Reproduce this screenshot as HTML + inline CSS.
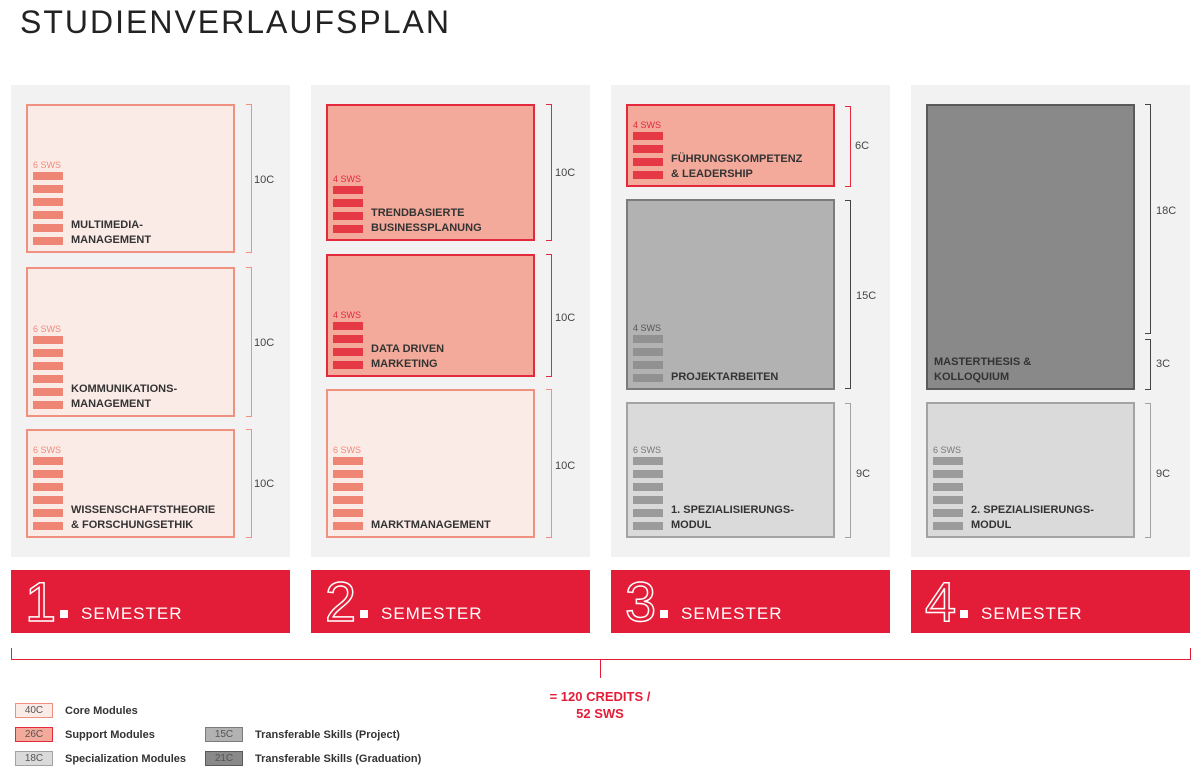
<!DOCTYPE html>
<html><head><meta charset="utf-8">
<style>
body{margin:0;width:1200px;height:774px;background:#fff;position:relative;overflow:hidden;font-family:"Liberation Sans",Arial,sans-serif}
.a{position:absolute}
.col{position:absolute;top:85px;width:279px;height:472px;background:#f2f2f2}
.box{position:absolute;box-sizing:border-box;border:2px solid}
.core{background:#fbebe7;border-color:#f0917f}
.sup{background:#f3aa9b;border-color:#e3293b}
.spec{background:#dadada;border-color:#a3a3a3}
.proj{background:#b2b2b2;border-color:#7b7b7b}
.grad{background:#898989;border-color:#5a5a5a}
.sw{position:absolute;left:5px;bottom:6px;width:32px}
.sw span{display:block;font-size:9px;line-height:10px;margin-bottom:1px}
.sw i{display:block;width:30px;height:8px;margin-top:5px}
.sw span+i{margin-top:2px}
.core .sw span{color:#ef8a79}.core .sw i{background:#ef8575}
.sup .sw span{color:#e3293b}.sup .sw i{background:#e63946}
.spec .sw span{color:#777}.spec .sw i{background:#9b9b9b}
.proj .sw span{color:#555}.proj .sw i{background:#919191}
.lb{position:absolute;left:43px;bottom:3px;font-size:11px;font-weight:bold;line-height:15px;color:#333}
.br{position:absolute;width:5px;border:1.5px solid;border-left:none}
.bt{position:absolute;font-size:11px;color:#444}
.sem{position:absolute;top:570px;width:279px;height:63px;background:#e31d37;color:#fff}
.sem .n{position:absolute;left:14px;top:4px;font-size:56px;line-height:56px;font-weight:100;color:transparent;-webkit-text-stroke:1.5px #fff}
.sem .d{position:absolute;left:49px;top:40px;width:8px;height:8px;background:#fff}
.sem .t{position:absolute;left:70px;top:34px;font-size:17px;letter-spacing:1px}
.lg{position:absolute;width:38px;height:15px;box-sizing:border-box;border:1px solid;font-size:10px;text-align:center;line-height:13px;color:#555}
.lt{position:absolute;font-size:11px;font-weight:bold;color:#333}
</style></head><body>
<div class="a" style="left:20px;top:4px;font-size:32px;letter-spacing:2px;color:#222;font-weight:normal">STUDIENVERLAUFSPLAN</div>

<div class="col" style="left:11px"></div>
<div class="col" style="left:311px"></div>
<div class="col" style="left:611px"></div>
<div class="col" style="left:911px"></div>

<!-- col1 -->
<div class="box core" style="left:26px;top:104px;width:209px;height:149px"><div class="sw"><span>6 SWS</span><i></i><i></i><i></i><i></i><i></i><i></i></div><div class="lb">MULTIMEDIA-<br>MANAGEMENT</div></div>
<div class="br" style="left:246px;top:104px;height:147px;border-color:#f0917f"></div><div class="bt" style="left:254px;top:174px">10C</div>
<div class="box core" style="left:26px;top:267px;width:209px;height:150px"><div class="sw"><span>6 SWS</span><i></i><i></i><i></i><i></i><i></i><i></i></div><div class="lb">KOMMUNIKATIONS-<br>MANAGEMENT</div></div>
<div class="br" style="left:246px;top:267px;height:148px;border-color:#f0917f"></div><div class="bt" style="left:254px;top:337px">10C</div>
<div class="box core" style="left:26px;top:429px;width:209px;height:109px"><div class="sw"><span>6 SWS</span><i></i><i></i><i></i><i></i><i></i><i></i></div><div class="lb">WISSENSCHAFTSTHEORIE<br>&amp; FORSCHUNGSETHIK</div></div>
<div class="br" style="left:246px;top:429px;height:107px;border-color:#f0917f"></div><div class="bt" style="left:254px;top:478px">10C</div>

<!-- col2 -->
<div class="box sup" style="left:326px;top:104px;width:209px;height:137px"><div class="sw"><span>4 SWS</span><i></i><i></i><i></i><i></i></div><div class="lb">TRENDBASIERTE<br>BUSINESSPLANUNG</div></div>
<div class="br" style="left:546px;top:104px;height:135px;border-color:#e3293b"></div><div class="bt" style="left:555px;top:167px">10C</div>
<div class="box sup" style="left:326px;top:254px;width:209px;height:123px"><div class="sw"><span>4 SWS</span><i></i><i></i><i></i><i></i></div><div class="lb">DATA DRIVEN<br>MARKETING</div></div>
<div class="br" style="left:546px;top:254px;height:121px;border-color:#e3293b"></div><div class="bt" style="left:555px;top:312px">10C</div>
<div class="box core" style="left:326px;top:389px;width:209px;height:149px"><div class="sw"><span>6 SWS</span><i></i><i></i><i></i><i></i><i></i><i></i></div><div class="lb">MARKTMANAGEMENT</div></div>
<div class="br" style="left:546px;top:389px;height:147px;border-color:#f0917f"></div><div class="bt" style="left:555px;top:460px">10C</div>

<!-- col3 -->
<div class="box sup" style="left:626px;top:104px;width:209px;height:83px"><div class="sw"><span>4 SWS</span><i></i><i></i><i></i><i></i></div><div class="lb">FÜHRUNGSKOMPETENZ<br>&amp; LEADERSHIP</div></div>
<div class="br" style="left:845px;top:106px;height:79px;border-color:#e3293b"></div><div class="bt" style="left:855px;top:140px">6C</div>
<div class="box proj" style="left:626px;top:199px;width:209px;height:191px"><div class="sw"><span>4 SWS</span><i></i><i></i><i></i><i></i></div><div class="lb">PROJEKTARBEITEN</div></div>
<div class="br" style="left:845px;top:200px;height:187px;border-color:#444"></div><div class="bt" style="left:856px;top:290px">15C</div>
<div class="box spec" style="left:626px;top:402px;width:209px;height:136px"><div class="sw"><span>6 SWS</span><i></i><i></i><i></i><i></i><i></i><i></i></div><div class="lb">1. SPEZIALISIERUNGS-<br>MODUL</div></div>
<div class="br" style="left:845px;top:403px;height:133px;border-color:#a3a3a3"></div><div class="bt" style="left:856px;top:468px">9C</div>

<!-- col4 -->
<div class="box grad" style="left:926px;top:104px;width:209px;height:286px"><div class="lb" style="left:6px">MASTERTHESIS &amp;<br>KOLLOQUIUM</div></div>
<div class="br" style="left:1145px;top:104px;height:228px;border-color:#444"></div><div class="bt" style="left:1156px;top:205px">18C</div>
<div class="br" style="left:1145px;top:339px;height:49px;border-color:#444"></div><div class="bt" style="left:1156px;top:358px">3C</div>
<div class="box spec" style="left:926px;top:402px;width:209px;height:136px"><div class="sw"><span>6 SWS</span><i></i><i></i><i></i><i></i><i></i><i></i></div><div class="lb">2. SPEZIALISIERUNGS-<br>MODUL</div></div>
<div class="br" style="left:1145px;top:403px;height:133px;border-color:#a3a3a3"></div><div class="bt" style="left:1156px;top:468px">9C</div>

<!-- semesters -->
<div class="sem" style="left:11px"><div class="n">1</div><div class="d"></div><div class="t">SEMESTER</div></div>
<div class="sem" style="left:311px"><div class="n">2</div><div class="d"></div><div class="t">SEMESTER</div></div>
<div class="sem" style="left:611px"><div class="n">3</div><div class="d"></div><div class="t">SEMESTER</div></div>
<div class="sem" style="left:911px"><div class="n">4</div><div class="d"></div><div class="t">SEMESTER</div></div>

<!-- total bracket -->
<div class="a" style="left:11px;top:648px;width:1178px;height:11px;border:1px solid #e31d37;border-top:none"></div>
<div class="a" style="left:600px;top:660px;width:1px;height:18px;background:#e31d37"></div>
<div class="a" style="left:500px;top:688px;width:200px;text-align:center;color:#e31d37;font-weight:bold;font-size:13px;line-height:17px">= 120 CREDITS /<br>52 SWS</div>

<!-- legend -->
<div class="lg" style="left:15px;top:703px;background:#fbebe7;border-color:#f0917f">40C</div><div class="lt" style="left:65px;top:705px">Core Modules</div>
<div class="lg" style="left:15px;top:727px;background:#f3aa9b;border-color:#e3293b">26C</div><div class="lt" style="left:65px;top:729px">Support Modules</div>
<div class="lg" style="left:15px;top:751px;background:#dadada;border-color:#a3a3a3">18C</div><div class="lt" style="left:65px;top:753px">Specialization Modules</div>
<div class="lg" style="left:205px;top:727px;background:#b2b2b2;border-color:#7b7b7b">15C</div><div class="lt" style="left:255px;top:729px">Transferable Skills (Project)</div>
<div class="lg" style="left:205px;top:751px;background:#898989;border-color:#5a5a5a">21C</div><div class="lt" style="left:255px;top:753px">Transferable Skills (Graduation)</div>
</body></html>
